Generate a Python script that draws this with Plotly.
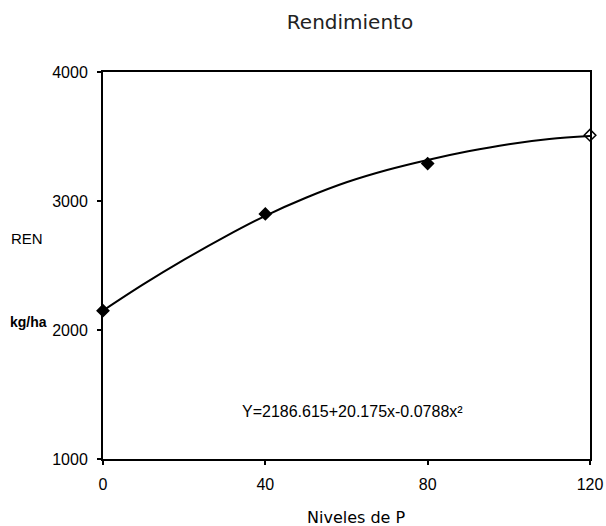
import plotly.graph_objects as go

# Observed means
niveles_p = [0, 40, 80, 120]
rendimiento = [2150, 2900, 3290, 3510]

# Fitted curve as drawn in the chart
curva_x = [0, 10, 20, 30, 40, 50, 60, 70, 80, 90, 100, 110, 120]
curva_y = [2150, 2355, 2545, 2722, 2885, 3025, 3145, 3240, 3318, 3385, 3440, 3480, 3503]

x_ticks = [0, 40, 80, 120]
y_ticks = [1000, 2000, 3000, 4000]

titulo = "Rendimiento"
ecuacion = "Y=2186.615+20.175x-0.0788x²"

fig = go.Figure()
fig.add_trace(go.Scatter(
    x=curva_x, y=curva_y, mode="lines", line=dict(color="black", width=2, shape="spline"),
    hoverinfo="skip", showlegend=False, cliponaxis=False))
fig.add_trace(go.Scatter(
    x=niveles_p, y=rendimiento, mode="markers",
    marker=dict(symbol=["diamond", "diamond", "diamond", "diamond-open"], size=9, color="black",
                line=dict(color="black", width=1.5)),
    showlegend=False, cliponaxis=False))

fig.update_layout(
    template="none",
    width=606, height=526,
    margin=dict(l=103, r=16, t=72, b=67, autoexpand=False),
    paper_bgcolor="white", plot_bgcolor="white",
    font=dict(family="Liberation Sans, Arial, sans-serif", color="black", size=16),
    title=dict(text=titulo, x=350 / 606, xanchor="center", y=1 - 22 / 526, yanchor="middle",
               font=dict(family="DejaVu Sans", size=20, color="#222")),
    showlegend=False,
)
fig.update_xaxes(range=[0, 120], tickvals=x_ticks, ticktext=[str(v) for v in x_ticks],
                 automargin=False,
                 showgrid=False, zeroline=False, showline=True, linecolor="black", linewidth=2,
                 mirror=True, ticks="outside", ticklen=4, tickwidth=2, tickcolor="black",
                 tickfont=dict(size=16), ticklabelstandoff=6)
fig.update_yaxes(range=[1000, 4000], tickvals=y_ticks, ticktext=[str(v) for v in y_ticks],
                 automargin=False,
                 showgrid=False, zeroline=False, showline=True, linecolor="black", linewidth=2,
                 mirror=True, ticks="outside", ticklen=4, tickwidth=2, tickcolor="black",
                 tickfont=dict(size=16), ticklabelstandoff=6)

fig.add_annotation(text="REN", xref="paper", yref="paper", x=-0.156, y=0.571,
                   xanchor="center", yanchor="middle", showarrow=False,
                   font=dict(family="Liberation Sans", size=15))
fig.add_annotation(text="<b>kg/ha</b>", xref="paper", yref="paper", x=-0.154, y=0.354,
                   xanchor="center", yanchor="middle", showarrow=False,
                   font=dict(family="Liberation Sans", size=14))
fig.add_annotation(text="Niveles de P", xref="paper", yref="paper", x=0.52, y=-0.150,
                   xanchor="center", yanchor="middle", showarrow=False,
                   font=dict(family="DejaVu Sans", size=16))
fig.add_annotation(text=ecuacion, x=61.6, y=1372, xanchor="center", yanchor="middle",
                   showarrow=False, font=dict(family="Liberation Sans", size=16))

fig.write_html("out.html", config={"displayModeBar": False},
               post_script="document.body.style.margin='0';document.body.style.overflow='hidden';")
